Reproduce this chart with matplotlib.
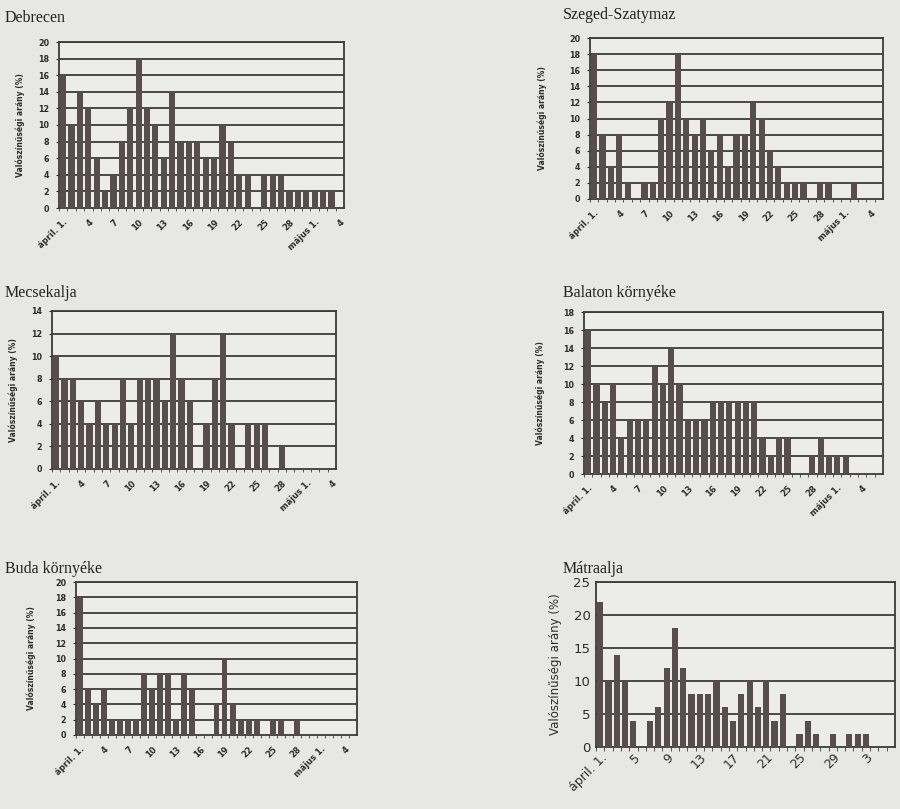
import numpy as np
import matplotlib.pyplot as plt

# daily probability (%)
debrecen = [16, 10, 14, 12, 6, 2, 4, 8, 12, 18, 12, 10, 6, 14, 8, 8, 8, 6, 6, 10,
            8, 4, 4, 0, 4, 4, 4, 2, 2, 2, 2, 2, 2, 0]
szeged = [18, 8, 4, 8, 2, 0, 2, 2, 10, 12, 18, 10, 8, 10, 6, 8, 4, 8, 8, 12,
          10, 6, 4, 2, 2, 2, 0, 2, 2, 0, 0, 2, 0, 0, 0]
mecsek = [10, 8, 8, 6, 4, 6, 4, 4, 8, 4, 8, 8, 8, 6, 12, 8, 6, 0, 4, 8,
          12, 4, 0, 4, 4, 4, 0, 2, 0, 0, 0, 0, 0, 0]
balaton = [16, 10, 8, 10, 4, 6, 6, 6, 12, 10, 14, 10, 6, 6, 6, 8, 8, 8, 8, 8,
           8, 4, 2, 4, 4, 0, 0, 2, 4, 2, 2, 2, 0, 0, 0, 0]
buda = [18, 6, 4, 6, 2, 2, 2, 2, 8, 6, 8, 8, 2, 8, 6, 0, 0, 4, 10, 4,
        2, 2, 2, 0, 2, 2, 0, 2, 0, 0, 0, 0, 0, 0, 0]
matra = [22, 10, 14, 10, 4, 0, 4, 6, 12, 18, 12, 8, 8, 8, 10, 6, 4, 8, 10, 6,
         10, 4, 8, 0, 2, 4, 2, 0, 2, 0, 2, 2, 2, 0, 0, 0]

labels3 = ['ápril. 1.', '4', '7', '10', '13', '16', '19', '22', '25', '28', 'május 1.', '4']
labels4 = ['ápril. 1.', '5', '9', '13', '17', '21', '25', '29', '3']

ylabel = 'Valószínűségi arány (%)'
bar_col = '#574c4e'
line_col = '#3e3a3b'
txt_col = '#2e2b2c'

W, H = 900, 809
fig = plt.figure(figsize=(9, 8.09), dpi=100, facecolor='#e7e7e6')


def panel(title, vals, ymax, ystep, box, title_xy, ylab_x, labels, step, big=False):
    l, r, t, b = box
    ax = fig.add_axes([l / W, 1 - b / H, (r - l) / W, (b - t) / H])
    ax.set_facecolor('#ececeb')
    n = len(vals)
    x = np.arange(n)
    ax.bar(x, vals, width=0.74, color=bar_col, zorder=3)
    ax.set_xlim(-0.5, n - 0.5)
    ax.set_ylim(0, ymax)
    yt = np.arange(0, ymax + 1, ystep)
    ax.set_yticks(yt)
    for v in yt[1:]:
        ax.axhline(v, color=line_col, lw=1.3, zorder=2)
    for s in ax.spines.values():
        s.set_color(line_col)
        s.set_linewidth(1.3)
    ax.set_xticks(np.arange(0, n, 1) - 0.5, minor=True)
    ax.set_xticks(np.arange(0, len(labels) * step, step))
    if big:
        ax.tick_params(axis='y', labelsize=9.5, length=0, pad=4, colors=txt_col)
        ax.tick_params(axis='x', which='major', length=0, pad=3)
        ax.tick_params(axis='x', which='minor', length=3, color=line_col, direction='out')
        ax.set_xticklabels(labels, rotation=45, ha='right', rotation_mode='anchor',
                           fontsize=9, color=txt_col)
    else:
        ax.tick_params(axis='y', labelsize=5.8, length=2, pad=5, colors=txt_col)
        for lab in ax.get_yticklabels():
            lab.set_fontweight('bold')
        ax.tick_params(axis='x', which='major', length=0, pad=7)
        ax.tick_params(axis='x', which='minor', length=2, color=line_col, direction='out')
        ax.set_xticklabels(labels, rotation=45, ha='right', rotation_mode='anchor',
                           fontsize=6, fontweight='bold', color=txt_col)
    fig.text(title_xy[0] / W, 1 - title_xy[1] / H, title, family='Liberation Serif',
             fontsize=11.5, color='#222222', va='baseline', ha='left')
    yc = 1 - (t + b) / 2 / H
    if big:
        fig.text(ylab_x / W, yc, ylabel, rotation=90, fontsize=8.5, va='center',
                 ha='center', color=txt_col)
    else:
        fig.text(ylab_x / W, yc, ylabel, rotation=90, fontsize=5.5, fontweight='bold',
                 va='center', ha='center', color=txt_col)
    return ax


panel('Debrecen', debrecen, 20, 2, (59, 344, 42, 208), (5, 22), 20, labels3, 3)
panel('Szeged-Szatymaz', szeged, 20, 2, (590, 883, 38, 199), (563, 19), 542, labels3, 3)
panel('Mecsekalja', mecsek, 14, 2, (52, 336, 311, 469), (5, 297), 13, labels3, 3)
panel('Balaton környéke', balaton, 18, 2, (584, 883, 312, 474), (563, 297), 540, labels3, 3)
panel('Buda környéke', buda, 20, 2, (76, 357, 582, 735), (5, 573), 31, labels3, 3)
panel('Mátraalja', matra, 25, 5, (596, 895, 582, 747), (563, 573), 555, labels4, 4, big=True)

plt.savefig('out.png', dpi=100, facecolor=fig.get_facecolor())
